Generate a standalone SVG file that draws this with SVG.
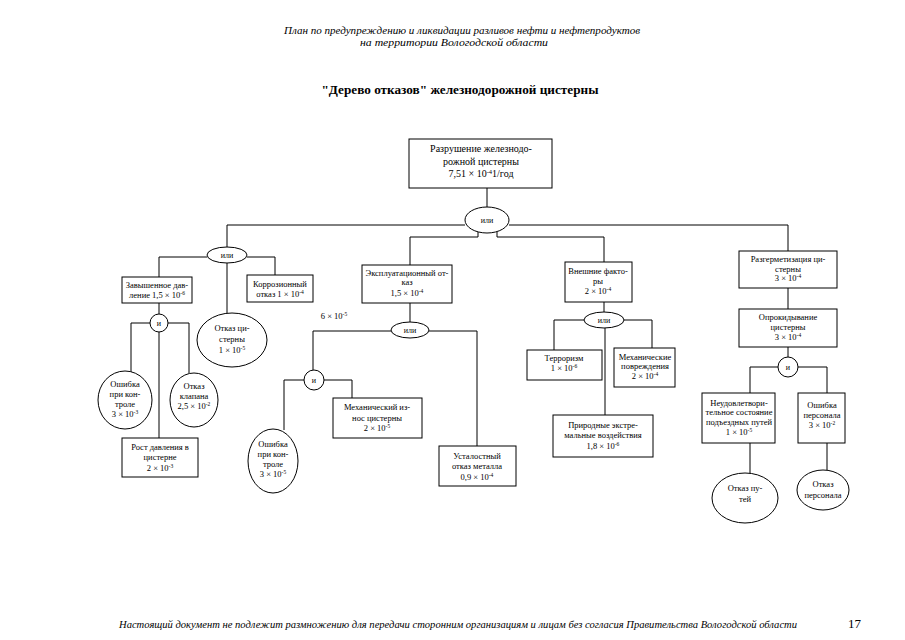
<svg xmlns="http://www.w3.org/2000/svg" width="905" height="640" viewBox="0 0 905 640">
<style>
.bg{fill:#fff}
.b{fill:#fff;stroke:#000;stroke-width:1}
.c{fill:none;stroke:#000;stroke-width:1}
.t{font-family:"Liberation Serif","Times New Roman",serif;font-size:8.5px;text-anchor:middle;fill:#000}
.g{font-family:"Liberation Serif","Times New Roman",serif;font-size:8px;text-anchor:middle;fill:#000}
.s{font-size:5.5px}
.h{font-family:"Liberation Serif","Times New Roman",serif;font-style:italic;font-size:10.5px;text-anchor:middle;fill:#000}
.ti{font-family:"Liberation Serif","Times New Roman",serif;font-weight:bold;font-size:12.5px;text-anchor:middle;fill:#000}
.f{font-family:"Liberation Serif","Times New Roman",serif;font-style:italic;font-size:11px;fill:#000}
</style>
<rect class="bg" x="0" y="0" width="905" height="640"/>
<g id="header">
<text class="h" x="462" y="34" textLength="356" lengthAdjust="spacingAndGlyphs">План по предупреждению и ликвидации разливов нефти и нефтепродуктов</text>
<text class="h" x="454" y="46" textLength="188" lengthAdjust="spacingAndGlyphs">на территории Вологодской области</text>
<text class="ti" x="460" y="94" textLength="277" lengthAdjust="spacingAndGlyphs">"Дерево отказов" железнодорожной цистерны</text>
</g>
<g id="connectors">
<path class="c" d="M487,188 V207"/>
<path class="c" d="M465,225 H227 V247"/>
<path class="c" d="M509,225 H788 V251"/>
<path class="c" d="M478,232 V237 H410 V265"/>
<path class="c" d="M497,232 V237 H604 V262"/>
<path class="c" d="M207,257 H159 V277"/>
<path class="c" d="M247,257 H275 V275"/>
<path class="c" d="M227,263 V313"/>
<path class="c" d="M159,303 V314"/>
<path class="c" d="M150,323 H131 V372"/>
<path class="c" d="M168,323 H189 V373"/>
<path class="c" d="M159,332 V438"/>
<path class="c" d="M410,303 V322"/>
<path class="c" d="M391,331 H313 V370"/>
<path class="c" d="M429,331 H477 V446"/>
<path class="c" d="M304,380 H284 V430"/>
<path class="c" d="M324,380 H352 V398"/>
<path class="c" d="M604,302 V312"/>
<path class="c" d="M584,320 H554 V350"/>
<path class="c" d="M624,320 H652 V348"/>
<path class="c" d="M605,328 V415"/>
<path class="c" d="M788,288 V309"/>
<path class="c" d="M788,347 V357"/>
<path class="c" d="M778,367 H750 V393"/>
<path class="c" d="M798,367 H827 V393"/>
<path class="c" d="M750,443 V474"/>
<path class="c" d="M827,443 V470"/>
</g>
<g id="top">
<rect class="b" x="409" y="139" width="143" height="49"/>
<text class="t" style="font-size:10px"><tspan x="481" y="152">Разрушение железнодо-</tspan><tspan x="481" y="165">рожной цистерны</tspan><tspan x="481" y="177">7,51 × 10<tspan class="s" style="font-size:6.5px" baseline-shift="super">-4</tspan>1/год</tspan></text>
</g>
<g id="or-top">
<ellipse class="b" cx="487" cy="220" rx="22" ry="13"/>
<text class="g" x="487" y="223">или</text>
</g>
<g id="or-left">
<ellipse class="b" cx="227" cy="255" rx="20" ry="8"/>
<text class="g" x="227" y="258">или</text>
</g>
<g id="overpressure">
<rect class="b" x="122" y="277" width="70" height="26"/>
<text class="t"><tspan x="157" y="288">Завышенное дав-</tspan><tspan x="157" y="298">ление 1,5 × 10<tspan class="s" baseline-shift="super">-6</tspan></tspan></text>
</g>
<g id="corrosion">
<rect class="b" x="247" y="275" width="66" height="27"/>
<text class="t"><tspan x="280" y="287">Коррозионный</tspan><tspan x="280" y="297">отказ 1 × 10<tspan class="s" baseline-shift="super">-4</tspan></tspan></text>
</g>
<g id="tank-fail">
<ellipse class="b" cx="232" cy="340" rx="35" ry="27"/>
<text class="t"><tspan x="232" y="331">Отказ ци-</tspan><tspan x="232" y="342">стерны</tspan><tspan x="232" y="353">1 × 10<tspan class="s" baseline-shift="super">-5</tspan></tspan></text>
</g>
<g id="and-left">
<circle class="b" cx="159" cy="323" r="9"/>
<text class="g" x="159" y="326">и</text>
</g>
<g id="control-err-left">
<ellipse class="b" cx="125" cy="400" rx="27" ry="29"/>
<text class="t"><tspan x="125" y="387">Ошибка</tspan><tspan x="125" y="397">при кон-</tspan><tspan x="125" y="407">троле</tspan><tspan x="125" y="417">3 × 10<tspan class="s" baseline-shift="super">-3</tspan></tspan></text>
</g>
<g id="valve-fail">
<ellipse class="b" cx="194" cy="400" rx="24" ry="27"/>
<text class="t"><tspan x="194" y="389">Отказ</tspan><tspan x="194" y="399">клапана</tspan><tspan x="194" y="409">2,5 × 10<tspan class="s" baseline-shift="super">-2</tspan></tspan></text>
</g>
<g id="pressure-rise">
<rect class="b" x="122" y="438" width="76" height="39"/>
<text class="t"><tspan x="160" y="450">Рост давления в</tspan><tspan x="160" y="460">цистерне</tspan><tspan x="160" y="471">2 × 10<tspan class="s" baseline-shift="super">-3</tspan></tspan></text>
</g>
<g id="label-6e-5">
<text class="t" x="334" y="319">6 × 10<tspan class="s" baseline-shift="super">-5</tspan></text>
</g>
<g id="operational">
<rect class="b" x="362" y="265" width="90" height="38"/>
<text class="t"><tspan x="407" y="276">Эксплуатационный от-</tspan><tspan x="407" y="285">каз</tspan><tspan x="407" y="296">1,5 × 10<tspan class="s" baseline-shift="super">-4</tspan></tspan></text>
</g>
<g id="or-mid">
<ellipse class="b" cx="410" cy="330" rx="19" ry="8"/>
<text class="g" x="410" y="333">или</text>
</g>
<g id="and-mid">
<circle class="b" cx="314" cy="380" r="10"/>
<text class="g" x="314" y="383">и</text>
</g>
<g id="wear">
<rect class="b" x="333" y="398" width="89" height="40"/>
<text class="t"><tspan x="377" y="410">Механический из-</tspan><tspan x="377" y="421">нос цистерны</tspan><tspan x="377" y="431">2 × 10<tspan class="s" baseline-shift="super">-5</tspan></tspan></text>
</g>
<g id="control-err-mid">
<ellipse class="b" cx="273" cy="461" rx="25" ry="32"/>
<text class="t"><tspan x="273" y="447">Ошибка</tspan><tspan x="273" y="457">при кон-</tspan><tspan x="273" y="467">троле</tspan><tspan x="273" y="477">3 × 10<tspan class="s" baseline-shift="super">-5</tspan></tspan></text>
</g>
<g id="fatigue">
<rect class="b" x="439" y="446" width="77" height="40"/>
<text class="t"><tspan x="477" y="459">Усталостный</tspan><tspan x="477" y="469">отказ металла</tspan><tspan x="477" y="480">0,9 × 10<tspan class="s" baseline-shift="super">-4</tspan></tspan></text>
</g>
<g id="external">
<rect class="b" x="565" y="262" width="67" height="40"/>
<text class="t"><tspan x="598" y="274">Внешние факто-</tspan><tspan x="598" y="284">ры</tspan><tspan x="598" y="294">2 × 10<tspan class="s" baseline-shift="super">-4</tspan></tspan></text>
</g>
<g id="or-right">
<ellipse class="b" cx="604" cy="320" rx="20" ry="8"/>
<text class="g" x="604" y="323">или</text>
</g>
<g id="terror">
<rect class="b" x="527" y="350" width="75" height="30"/>
<text class="t"><tspan x="564" y="361">Терроризм</tspan><tspan x="564" y="371">1 × 10<tspan class="s" baseline-shift="super">-6</tspan></tspan></text>
</g>
<g id="mech-damage">
<rect class="b" x="614" y="348" width="61" height="39"/>
<text class="t"><tspan x="645" y="360">Механические</tspan><tspan x="645" y="369">повреждения</tspan><tspan x="645" y="379">2 × 10<tspan class="s" baseline-shift="super">-4</tspan></tspan></text>
</g>
<g id="natural">
<rect class="b" x="553" y="415" width="100" height="42"/>
<text class="t"><tspan x="603" y="428">Природные экстре-</tspan><tspan x="603" y="438">мальные воздействия</tspan><tspan x="603" y="449">1,8 × 10<tspan class="s" baseline-shift="super">-6</tspan></tspan></text>
</g>
<g id="depressurization">
<rect class="b" x="739" y="251" width="98" height="37"/>
<text class="t"><tspan x="788" y="262">Разгерметизация  ци-</tspan><tspan x="788" y="272">стерны</tspan><tspan x="788" y="281">3 × 10<tspan class="s" baseline-shift="super">-4</tspan></tspan></text>
</g>
<g id="overturn">
<rect class="b" x="739" y="309" width="98" height="38"/>
<text class="t"><tspan x="788" y="320">Опрокидывание</tspan><tspan x="788" y="330">цистерны</tspan><tspan x="788" y="340">3 × 10<tspan class="s" baseline-shift="super">-4</tspan></tspan></text>
</g>
<g id="and-right">
<circle class="b" cx="788" cy="367" r="10"/>
<text class="g" x="788" y="370">и</text>
</g>
<g id="track-state">
<rect class="b" x="702" y="393" width="73" height="50"/>
<text class="t"><tspan x="739" y="406">Неудовлетвори-</tspan><tspan x="739" y="415">тельное состояние</tspan><tspan x="739" y="425">подъездных путей</tspan><tspan x="739" y="435">1 × 10<tspan class="s" baseline-shift="super">-5</tspan></tspan></text>
</g>
<g id="staff-error">
<rect class="b" x="798" y="393" width="47" height="50"/>
<text class="t"><tspan x="822" y="408">Ошибка</tspan><tspan x="822" y="418">персонала</tspan><tspan x="822" y="428">3 × 10<tspan class="s" baseline-shift="super">-2</tspan></tspan></text>
</g>
<g id="track-fail">
<ellipse class="b" cx="745" cy="498" rx="33" ry="25"/>
<text class="t"><tspan x="745" y="491">Отказ пу-</tspan><tspan x="745" y="502">тей</tspan></text>
</g>
<g id="staff-fail">
<ellipse class="b" cx="823" cy="490" rx="26" ry="20"/>
<text class="t"><tspan x="823" y="487">Отказ</tspan><tspan x="823" y="498">персонала</tspan></text>
</g>
<g id="footer">
<text class="f" x="119" y="628" textLength="678" lengthAdjust="spacingAndGlyphs">Настоящий документ не подлежит размножению для передачи сторонним организациям и лицам без согласия Правительства Вологодской области</text>
<text class="f" x="848" y="628" style="font-style:normal;font-size:13px">17</text>
</g>
</svg>
